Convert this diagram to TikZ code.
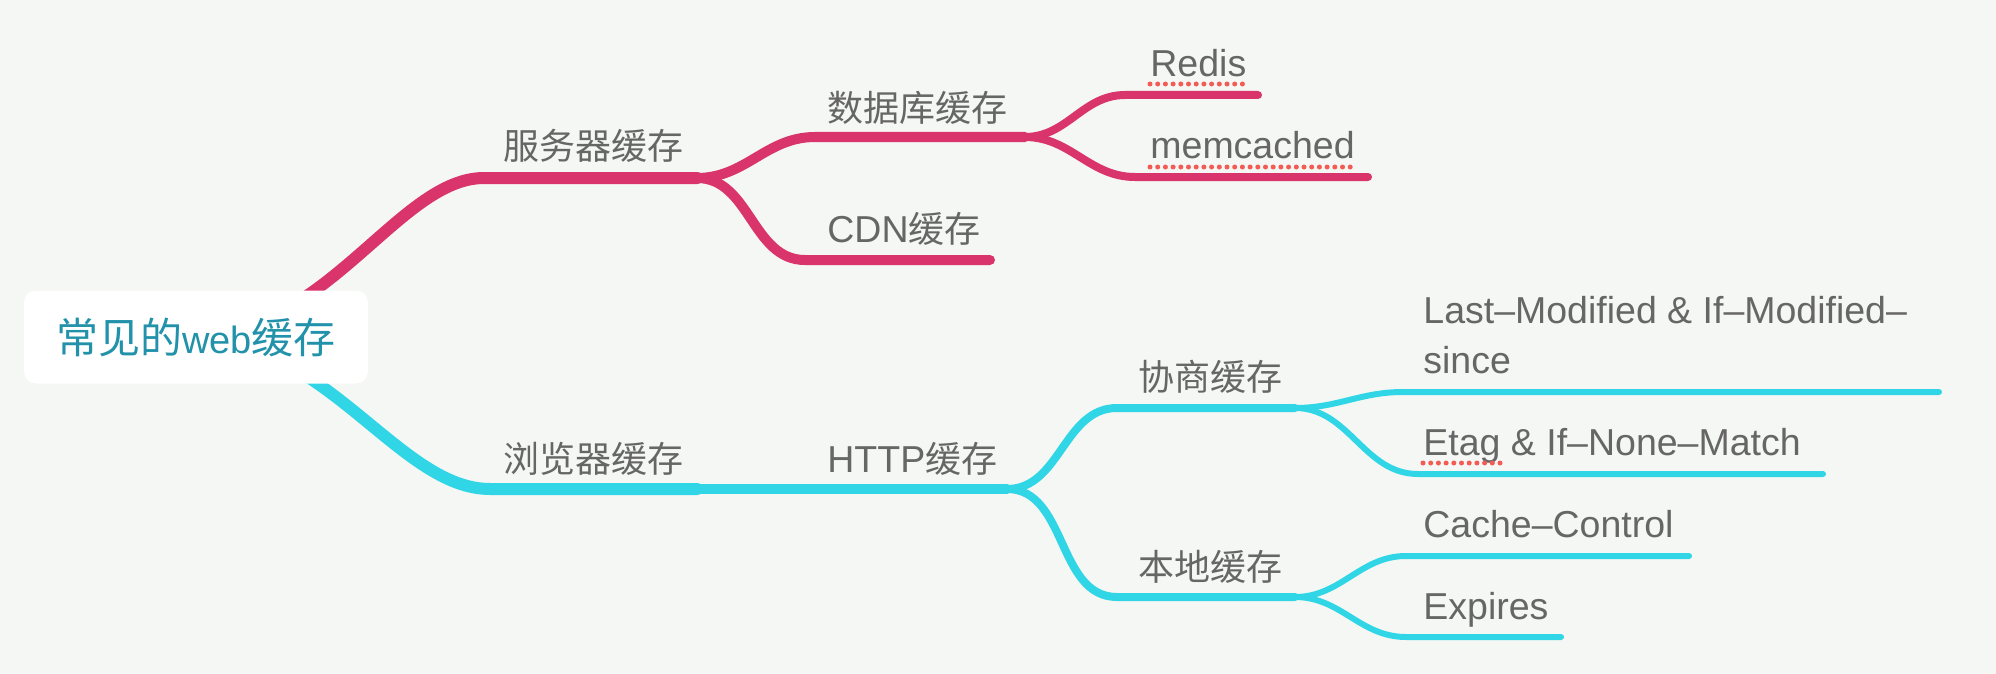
\documentclass[tikz,border=0pt]{standalone}
\usepackage{fontspec}
\setmainfont{Liberation Sans}
\newfontfamily\zh{Noto Sans CJK SC}[Scale=0.96]
\newcommand\rootzh[1]{{\zh\fontsize{21.9}{26}\selectfont #1}}
\definecolor{paper}{HTML}{F5F7F4}
\definecolor{rose}{HTML}{D9346B}
\definecolor{aqua}{HTML}{31D6E6}
\definecolor{ink}{HTML}{666666}
\definecolor{teal}{HTML}{2192AA}
\definecolor{spellred}{HTML}{F25C54}
\pgfdeclarelayer{paperlayer}
\pgfdeclarelayer{branchlayer}
\pgfsetlayers{paperlayer,branchlayer,main}
\tikzset{
  topic/.style={anchor=base west,inner sep=0pt,text=ink,align=left,font=\fontsize{18.75}{25}\selectfont},
  zhtopic/.style={anchor=west,inner sep=0pt,text=ink,font=\fontsize{18.75}{25}\selectfont\zh},
  lvlA/.style={line width=6pt,line cap=round},
  lvlB/.style={line width=5pt,line cap=round},
  lvlC/.style={line width=4pt,line cap=round},
  lvlD/.style={line width=3pt,line cap=round},
  spell/.style={draw=spellred,line width=2.5pt,line cap=round,dash pattern=on 0pt off 3.85pt}
}
\begin{document}
\begin{tikzpicture}[x=0.5pt,y=-0.5pt]
\begin{pgfonlayer}{paperlayer}
\fill[paper] (0,0) rectangle (1996,674);
\end{pgfonlayer}
\useasboundingbox (0,0) rectangle (1996,674);

\node[shape=rectangle,fill=white,rounded corners=6pt,minimum width=172pt,minimum height=46.5pt,inner sep=0pt,text=teal,font=\fontsize{19}{24}\selectfont] (root) at (196,337) {\rootzh{常见的}web\rootzh{缓存}};

\coordinate (srvA) at (484,178);  \coordinate (srvB) at (697,178);
\coordinate (dbA) at (815,137);   \coordinate (dbB) at (1025,137);
\coordinate (cdnA) at (805,260);  \coordinate (cdnB) at (990,260);
\coordinate (redA) at (1125,95);  \coordinate (redB) at (1258,95);
\coordinate (memA) at (1135,177); \coordinate (memB) at (1368,177);
\coordinate (brwA) at (490,489);  \coordinate (brwB) at (697,489);
\coordinate (httpB) at (1007,489);
\coordinate (negA) at (1117,408); \coordinate (negB) at (1295,408);
\coordinate (locA) at (1117,597); \coordinate (locB) at (1295,597);
\coordinate (lmA) at (1403,392);  \coordinate (lmB) at (1939,392);
\coordinate (etA) at (1418,474);  \coordinate (etB) at (1823,474);
\coordinate (ccA) at (1406,556);  \coordinate (ccB) at (1689,556);
\coordinate (exA) at (1406,637);  \coordinate (exB) at (1561,637);

\begin{pgfonlayer}{branchlayer}
\path [draw=rose,lvlA] (root.center) .. controls (330,330) and (400,178) .. (srvA) -- (srvB);
\path [draw=rose,lvlB] (srvB) to[out=0,in=180] (dbA) -- (dbB);
\path [draw=rose,lvlB] (srvB) to[out=0,in=180] (cdnA) -- (cdnB);
\path [draw=rose,lvlC] (dbB) to[out=0,in=180] (redA) -- (redB);
\path [draw=rose,lvlC] (dbB) to[out=0,in=180] (memA) -- (memB);
\path [draw=aqua,lvlA] (root.center) .. controls (330,344) and (400,489) .. (brwA) -- (brwB);
\path [draw=aqua,lvlB] (brwB) -- (httpB);
\path [draw=aqua,lvlC] (httpB) to[out=0,in=180] (negA) -- (negB);
\path [draw=aqua,lvlC] (httpB) to[out=0,in=180] (locA) -- (locB);
\path [draw=aqua,lvlD] (negB) to[out=0,in=180] (lmA) -- (lmB);
\path [draw=aqua,lvlD] (negB) to[out=0,in=180] (etA) -- (etB);
\path [draw=aqua,lvlD] (locB) to[out=0,in=180] (ccA) -- (ccB);
\path [draw=aqua,lvlD] (locB) to[out=0,in=180] (exA) -- (exB);
\end{pgfonlayer}

\node[zhtopic] (srv) at (503,146) {服务器缓存};
\node[zhtopic] (db) at (827,108) {数据库缓存};
\node[topic] (cdn) at (827,242) {CDN{\zh 缓存}};
\node[topic] (redis) at (1150,77) {Redis};
\node[topic] (mem) at (1150,158) {memcached};
\node[zhtopic] (brw) at (503,459) {浏览器缓存};
\node[topic] (http) at (827,472) {HTTP{\zh 缓存}};
\node[zhtopic] (neg) at (1138,377) {协商缓存};
\node[zhtopic] (loc) at (1138,567) {本地缓存};
\node[topic] (lm) at (1423,373) {Last–Modified \& If–Modified–\\since};
\node[topic] (etag) at (1423,455) {Etag \& If–None–Match};
\node[topic] (cc) at (1423,537) {Cache–Control};
\node[topic] (exp) at (1423,619) {Expires};

\path [spell] ([yshift=-3.5pt]redis.base west) -- ([yshift=-3.5pt]redis.base east);
\path [spell] ([yshift=-4.5pt]mem.base west) -- ([yshift=-4.5pt]mem.base east);
\path [spell] ([yshift=-4pt]etag.base west) -- ([xshift=38.5pt,yshift=-4pt]etag.base west);
\end{tikzpicture}
\end{document}
